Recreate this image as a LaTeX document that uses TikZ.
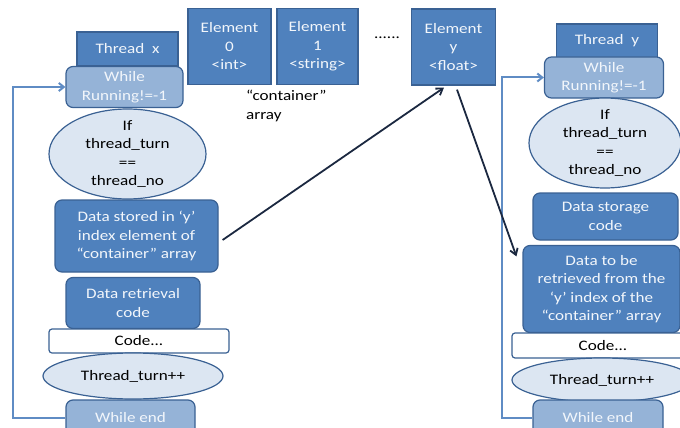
\documentclass[tikz,border=0pt]{standalone}
\usepackage{fontspec}
\setmainfont{Carlito}[FakeStretch=1.18]
\usetikzlibrary{shapes.geometric,arrows.meta}
\definecolor{boxfill}{HTML}{4F81BD}
\definecolor{boxline}{HTML}{3A6193}
\definecolor{loopfill}{HTML}{95B3D7}
\definecolor{ovalfill}{HTML}{DCE6F2}
\definecolor{boxtext}{HTML}{F2F6FB}
\definecolor{loopline}{HTML}{5F8CC4}
\definecolor{arrowink}{HTML}{1B2840}
\newcommand{\labelfont}{\fontsize{14.5}{18.5}\selectfont}
\tikzset{
  every node/.style={font=\labelfont},
  darkbox/.style={draw=boxline, line width=1.2pt, fill=boxfill, text=boxtext,
    align=center, inner sep=0pt},
  roundbox/.style={darkbox, rounded corners=7pt},
  loopbox/.style={draw=boxline, line width=1.2pt, fill=loopfill, text=boxtext,
    align=center, inner sep=0pt, rounded corners=7pt},
  plainbox/.style={draw=boxline, line width=1.2pt, fill=white, text=black,
    align=center, inner sep=0pt, rounded corners=3pt},
  oval/.style={ellipse, draw=boxline, line width=1.2pt, fill=ovalfill, inner sep=0pt},
  ovaltext/.style={align=center, text=black, inner sep=0pt},
  loopline/.style={draw=loopline, line width=2pt, -{Straight Barb[length=5pt,width=8pt]}},
  dataflow/.style={draw=arrowink, line width=1.8pt, -{Straight Barb[length=6pt,width=8pt]}},
}
\begin{document}
\begin{tikzpicture}[x=1pt,y=-1pt]
\useasboundingbox (0,0) rectangle (680,428);
\clip (0,0) rectangle (680,428);

% ---- the shared "container" array ----
\node[darkbox, minimum width=83pt, minimum height=76pt] (e0) at (229.5,46.5) {Element\\0\\<int>};
\node[darkbox, minimum width=81pt, minimum height=76pt] (e1) at (317.5,46.5) {Element\\1\\<string>};
\node[darkbox, minimum width=84pt, minimum height=76pt] (ey) at (453.5,47) {Element\\y\\<float>};
\node[inner sep=0pt] (dots) at (387,38) {......};
\node[align=left, anchor=west, inner sep=0pt] (arr) at (246,106) {“container”\\array};

% ---- thread x ----
\node[darkbox, minimum width=101pt, minimum height=34pt] (tx) at (127.5,49) {Thread~~x};
\node[loopbox, minimum width=117pt, minimum height=41pt] (wx) at (124.5,87) {While\\Running!=-1};
\node[oval, minimum width=157pt, minimum height=90pt] (ifx) at (127.5,154) {};
\node[ovaltext] (ifxt) at (ifx) {If\\thread\_turn\\==\\thread\_no};
\node[roundbox, minimum width=163pt, minimum height=72pt] (dsx) at (136.5,236) {Data stored in ‘y’\\index element of\\“container” array};
\node[roundbox, minimum width=134pt, minimum height=51pt] (drx) at (133,303) {Data retrieval\\code};
\node[plainbox, minimum width=180pt, minimum height=24pt] (cx) at (139,341) {Code...};
\node[oval, minimum width=180pt, minimum height=46pt] (ttx) at (133,376) {};
\node[ovaltext] (ttxt) at (ttx) {Thread\_turn++};
\node[loopbox, minimum width=129pt, minimum height=36pt] (wex) at (130.5,418) {While end};

% ---- thread y ----
\node[darkbox, minimum width=101pt, minimum height=34pt] (ty) at (607,41) {Thread~~y};
\node[loopbox, minimum width=119pt, minimum height=41pt] (wy) at (604,77.5) {While\\Running!=-1};
\node[oval, minimum width=152pt, minimum height=90pt] (ify) at (605,143) {};
\node[ovaltext] (ifyt) at (ify) {If\\thread\_turn\\==\\thread\_no};
\node[roundbox, minimum width=145pt, minimum height=47pt] (dsy) at (605.5,216.5) {Data storage\\code};
\node[roundbox, minimum width=157pt, minimum height=87pt] (dry) at (601.5,289) {Data to be\\retrieved from the\\‘y’ index of the\\“container” array};
\node[plainbox, minimum width=182pt, minimum height=25pt] (cy) at (603,345.5) {Code...};
\node[oval, minimum width=180pt, minimum height=44pt] (tty) at (602,380) {};
\node[ovaltext] (ttyt) at (tty) {Thread\_turn++};
\node[loopbox, minimum width=130pt, minimum height=36pt] (wey) at (598,418) {While end};

% ---- loop-back lines ----
\draw[loopline] (wex.west) -- ++(-52,0) |- (wx.west);
\draw[loopline] (wey.west) -- ++(-30,0) |- (wy.west);

% ---- data flow through element y ----
\draw[dataflow] ([xshift=4pt,yshift=-4pt]dsx.east) -- ([xshift=-9.5pt,yshift=-2pt]ey.south);
\draw[dataflow] ([xshift=3.5pt,yshift=-4pt]ey.south) -- ([xshift=-6pt,yshift=-11.5pt]dry.north west);
\end{tikzpicture}
\end{document}
